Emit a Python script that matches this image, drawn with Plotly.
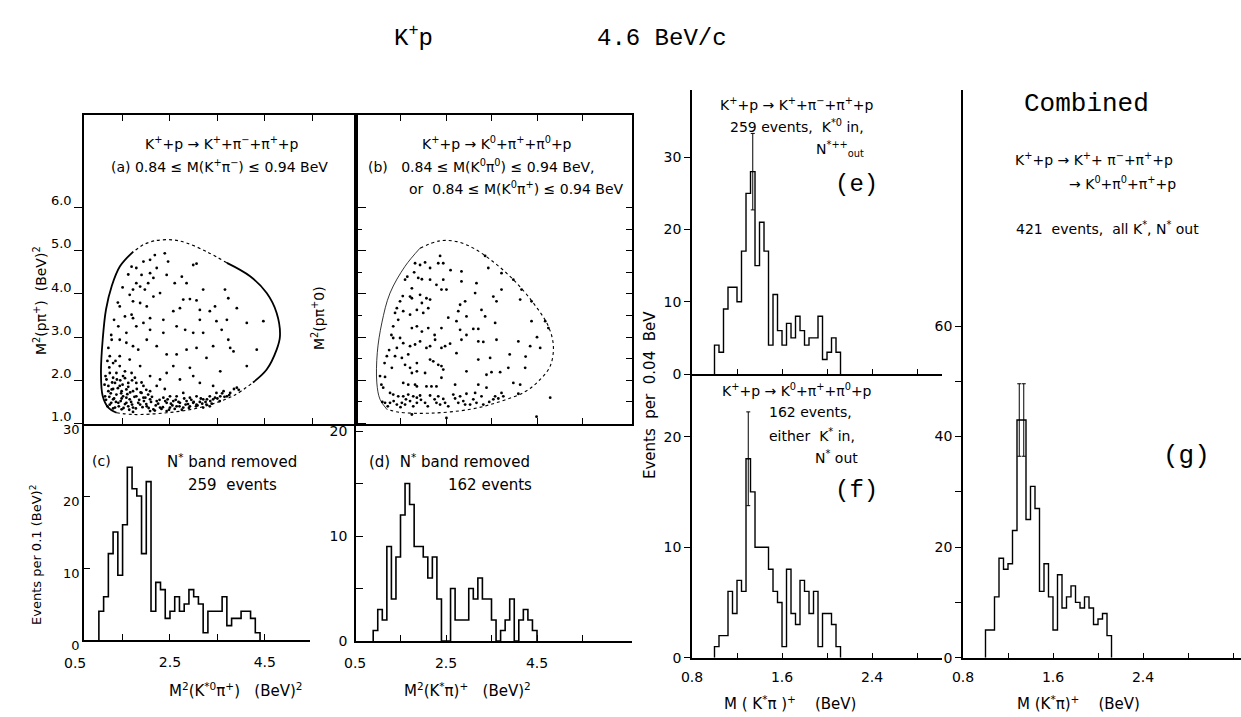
import plotly.graph_objects as go

W, H = 1241, 717

# ---------------- histogram data ----------------
# (c) M^2(K*0 pi+) , bins of 0.1 (BeV)^2, 259 events
c_start, c_width = 1.0, 0.1
c_counts = [4, 6, 12, 15, 9, 16, 24, 21, 20, 12, 22, 4, 8, 7, 3, 4, 6, 4, 5, 7,
            6, 5, 1, 4, 4, 4, 6, 2, 3, 3, 4, 4, 3, 1]

# (d) M^2(K* pi)+ , bins of 0.1 (BeV)^2, 162 events
d_start, d_width = 0.9, 0.1
d_counts = [1, 3, 2, 9, 4, 8, 12, 15, 13, 9, 9, 8, 6, 8, 4, 0, 0, 5, 2, 2,
            2, 5, 4, 6, 4, 4, 2, 0, 1, 2, 4, 0, 2, 3, 2, 1]

# (e), (f), (g) M(K* pi)+ , bins of 0.04 BeV
m_start, m_width = 1.0, 0.04
e_counts = [4, 3, 9, 12, 12, 10, 17, 25, 28, 15, 21, 17, 4, 11, 6, 4, 7, 5, 8, 6,
            4, 5, 5, 8, 2, 3, 5, 3]
f_counts = [1, 2, 2, 6, 4, 7, 6, 18, 15, 10, 10, 10, 8, 6, 5, 1, 8, 4, 3, 7,
            6, 4, 6, 1, 4, 4, 3, 1]
g_counts = [5, 5, 11, 18, 16, 17, 23, 43, 43, 25, 31, 27, 12, 17, 11, 5, 15, 9, 11, 13,
            10, 9, 11, 9, 6, 7, 8, 4]

# peak bins carrying statistical error bars
e_err_bins = [8]
f_err_bins = [7]
g_err_bins = [7, 8]

# tick labels of the M^2 axes
m2_ticks = [1.5, 2.5, 3.5, 4.5, 5.5]
m2_first_label, m2_first_val = "0.5", 0.5

# ---------------- Dalitz plot data ----------------
# (a) kinematic boundary, M^2(K*pi) vs M^2(p pi+)
a_bx = [1.93, 1.726, 1.445, 1.27, 1.15, 1.08, 1.044, 1.08, 1.20, 1.375, 1.72, 2.43, 3.13,
        3.83, 4.25, 4.54, 4.75, 4.82, 4.75, 4.54, 4.19, 3.70, 3.27, 2.85, 2.57, 2.18, 1.93]
a_by = [5.14, 4.98, 4.64, 4.18, 3.64, 2.94, 2.18, 1.64, 1.37, 1.25, 1.21, 1.25, 1.37,
        1.64, 1.95, 2.25, 2.71, 3.02, 3.56, 4.02, 4.41, 4.72, 4.98, 5.18, 5.25, 5.23, 5.14]

a_x = [1.69, 1.79, 1.94, 2.08, 2.18, 2.39, 1.90, 2.08, 2.15, 1.79, 1.87, 1.97, 2.46, 2.99,
       3.06, 2.43, 2.75, 2.85, 1.65, 1.72, 1.87, 2.01, 1.69, 1.72, 2.29, 2.78, 2.92, 3.06,
       3.13, 2.71, 2.57, 3.73, 3.91, 4.47, 4.12, 3.70, 3.48, 3.59, 3.73, 3.77, 3.41, 3.13,
       2.82, 2.99, 3.20, 2.36, 2.08, 1.94, 1.44, 1.55, 1.41, 1.27, 1.44, 1.58, 1.72, 1.83,
       2.01, 2.22, 2.43, 2.64, 2.85, 3.06, 3.27, 3.56, 4.12, 4.33, 3.84, 2.92, 2.57, 2.43,
       2.29, 2.08, 1.87, 1.65, 1.44, 1.30, 1.23, 1.37, 1.51, 1.34, 1.44, 1.58, 1.72, 1.79,
       1.94, 2.08, 2.22, 2.39, 2.50, 2.64, 2.78, 2.92, 3.06, 3.20, 3.34, 3.48, 3.63, 3.77,
       3.91, 3.13, 3.41, 2.99, 2.71, 1.16, 1.27, 1.37, 1.30, 1.41, 1.51, 1.65, 1.79, 1.94,
       2.08, 2.22, 2.36, 2.43, 2.57, 2.71, 2.85, 2.99, 3.13, 3.27, 3.41, 3.56, 3.70, 1.23,
       1.34, 1.48, 1.62, 1.72, 1.87, 2.01, 2.15, 2.29, 2.50, 2.64, 2.78, 2.92, 3.06, 3.20,
       3.34, 1.72, 2.08, 2.43, 1.20, 1.13, 1.48, 1.62, 1.76, 1.90, 2.04, 1.30, 1.55, 1.69,
       1.44, 1.23, 1.58, 1.79, 2.08, 2.36, 2.64, 3.34, 3.45, 3.66, 3.20, 2.60, 2.15, 1.72,
       2.04, 2.22, 1.25, 1.32, 1.40, 1.46, 1.55, 1.60, 1.68, 1.75, 1.83, 1.88, 1.95, 2.00,
       2.12, 2.20, 2.28, 2.35, 2.45, 2.55, 2.62, 2.70, 2.80, 2.88, 2.95, 3.05, 3.15, 3.25,
       3.35, 3.50, 3.60, 3.85, 1.28, 1.38, 1.50, 1.22, 1.35,
       1.15, 1.18, 1.22, 1.26, 1.30, 1.36, 1.42, 1.48, 1.52, 1.58, 1.64, 1.70, 1.78, 1.85,
       1.92, 1.98, 2.05, 2.10, 2.18, 2.25, 2.32, 2.40, 2.48, 2.52, 2.60, 2.68, 2.75, 2.83,
       2.90, 3.00, 3.08, 3.18, 3.28, 3.38, 3.45, 3.55, 3.65, 3.75, 3.95, 1.12, 1.14, 1.18,
       1.20, 1.26, 1.32, 1.40, 1.50, 1.62, 1.45, 1.55, 1.62, 1.70, 1.80, 1.30, 1.20, 1.47,
       1.58, 1.66, 1.90, 2.00]
a_y = [4.63, 4.60, 4.75, 4.79, 4.90, 4.94, 4.44, 4.48, 4.37, 4.25, 4.17, 4.10, 4.75, 4.67,
       4.70, 4.44, 4.40, 4.25, 3.98, 3.83, 3.79, 3.71, 3.52, 3.44, 4.02, 3.87, 3.88, 3.85,
       3.63, 3.67, 3.60, 3.90, 3.67, 3.37, 3.33, 3.40, 3.37, 3.17, 2.94, 2.75, 2.79, 3.40,
       3.17, 3.10, 3.10, 3.10, 3.17, 3.33, 3.71, 3.48, 3.25, 2.94, 2.94, 2.87, 2.79, 2.71,
       2.94, 2.79, 2.60, 2.60, 2.71, 2.75, 2.52, 2.21, 2.33, 2.71, 2.67, 2.29, 2.33, 2.17,
       2.02, 2.10, 2.33, 2.48, 2.56, 2.40, 2.17, 2.17, 2.10, 1.94, 1.87, 1.79, 1.75, 1.94,
       1.87, 1.75, 1.87, 1.80, 1.63, 1.63, 1.71, 1.60, 1.63, 1.56, 1.63, 1.71, 1.75, 1.71,
       1.83, 1.94, 1.87, 2.10, 2.02, 2.02, 1.79, 1.67, 1.56, 1.48, 1.63, 1.56, 1.63, 1.60,
       1.56, 1.52, 1.60, 1.48, 1.52, 1.48, 1.52, 1.48, 1.50, 1.44, 1.56, 1.63, 1.63, 1.44,
       1.37, 1.33, 1.40, 1.37, 1.44, 1.40, 1.33, 1.37, 1.37, 1.40, 1.37, 1.40, 1.44, 1.37,
       1.40, 1.27, 1.29, 1.29, 1.87, 1.63, 1.75, 1.94, 2.06, 1.71, 1.67, 2.06, 2.21, 2.17,
       2.33, 2.56, 3.10, 3.25, 3.44, 3.40, 3.25, 3.60, 3.71, 4.10, 4.10, 4.25, 3.94, 4.10,
       4.25, 4.60, 1.70, 1.58, 1.82, 1.52, 1.45, 1.68, 1.50, 1.62, 1.48, 1.72, 1.52, 1.45,
       1.62, 1.42, 1.55, 1.38, 1.56, 1.42, 1.55, 1.40, 1.58, 1.45, 1.55, 1.40, 1.58, 1.50,
       1.52, 1.58, 1.70, 1.80, 1.95, 2.02, 1.90, 2.30, 2.45,
       1.55, 1.40, 1.62, 1.48, 1.35, 1.50, 1.40, 1.58, 1.36, 1.48, 1.32, 1.44, 1.35, 1.55,
       1.38, 1.60, 1.36, 1.50, 1.30, 1.46, 1.34, 1.52, 1.32, 1.46, 1.34, 1.50, 1.32, 1.44,
       1.36, 1.50, 1.42, 1.46, 1.56, 1.46, 1.60, 1.52, 1.62, 1.66, 1.78, 1.90, 2.10, 2.45,
       2.75, 3.05, 3.40, 3.80, 4.15, 4.45, 2.00, 2.05, 1.85, 2.00, 1.80, 1.80, 1.75, 1.70,
       1.60, 1.72, 1.95, 1.78]

# (b) kinematic boundary, M^2(K*pi) vs M^2(p pi0)
b_bx = [1.93, 2.37, 2.74, 3.10, 3.53, 3.98, 4.42, 4.75, 4.86, 4.79, 4.57, 4.24, 3.69,
        3.03, 2.15, 1.49, 1.20, 1.05, 0.98, 0.99, 1.09, 1.27, 1.60, 1.93]
b_by = [5.06, 5.23, 5.21, 5.06, 4.75, 4.33, 3.79, 3.25, 2.79, 2.33, 2.02, 1.74, 1.51,
        1.33, 1.24, 1.26, 1.33, 1.56, 1.94, 2.64, 3.33, 4.02, 4.64, 5.06]

b_x = [1.82, 1.93, 2.04, 2.15, 2.37, 2.33, 2.44, 2.84, 3.43, 3.72, 3.36, 1.60, 1.75, 1.89,
       1.97, 2.15, 2.29, 2.44, 2.40, 2.51, 2.84, 3.17, 3.72, 3.98, 4.16, 4.13, 4.38, 1.71,
       1.75, 1.93, 2.07, 2.15, 1.97, 1.86, 1.49, 1.42, 1.38, 1.56, 1.71, 2.00, 2.11, 2.81,
       2.92, 2.77, 3.28, 3.36, 3.61, 3.14, 3.54, 2.95, 2.73, 3.58, 4.38, 4.68, 4.75, 1.34,
       1.75, 1.86, 1.97, 2.11, 2.40, 2.81, 3.10, 3.21, 1.34, 1.49, 1.56, 1.42, 1.71, 1.82,
       1.93, 2.07, 2.15, 2.26, 2.40, 2.48, 2.59, 2.84, 3.21, 3.32, 3.61, 4.09, 4.35, 4.57,
       1.20, 1.38, 1.53, 1.67, 1.86, 2.15, 2.22, 2.33, 2.73, 3.21, 3.47, 3.87, 4.24, 1.05,
       1.16, 1.31, 1.60, 1.71, 1.75, 1.86, 2.04, 2.40, 2.40, 2.44, 2.95, 3.39, 3.50, 3.69,
       3.98, 4.13, 1.56, 1.67, 1.82, 1.86, 2.07, 2.18, 2.29, 2.70, 3.21, 3.39, 3.58, 3.72,
       3.76, 4.09, 1.12, 1.27, 1.34, 1.45, 1.56, 1.67, 1.78, 1.86, 1.93, 2.15, 2.33, 2.44,
       2.66, 2.81, 2.95, 3.14, 3.28, 3.54, 1.16, 1.27, 1.42, 1.53, 1.60, 1.71, 1.86, 2.04,
       2.29, 2.37, 2.48, 2.77, 2.92, 3.03, 3.17, 3.32, 1.75, 2.51, 4.49, 4.79,
       1.10, 1.22, 1.35, 1.50, 1.62, 1.78, 1.95, 2.10, 2.25, 2.55, 2.70, 2.88, 3.10, 3.45,
       3.65, 1.08, 1.15, 1.25, 1.30, 1.45, 1.55, 1.65, 1.80, 2.60, 2.25, 2.55, 2.95, 3.90,
       4.25, 4.50]
b_y = [4.71, 4.67, 4.73, 4.60, 4.88, 4.71, 4.71, 4.52, 4.60, 4.48, 4.88, 4.33, 4.13, 4.37,
       4.34, 4.33, 4.21, 4.33, 4.10, 4.10, 4.29, 4.25, 4.10, 4.33, 4.10, 3.87, 3.83, 3.94,
       3.90, 3.98, 3.90, 3.87, 3.79, 3.63, 3.83, 3.67, 3.56, 3.60, 3.52, 3.56, 3.67, 3.75,
       3.83, 3.60, 3.63, 3.48, 3.83, 4.02, 3.94, 3.48, 3.37, 3.33, 3.37, 3.37, 3.21, 3.25,
       3.21, 3.25, 3.13, 3.21, 3.21, 3.17, 3.19, 3.19, 2.98, 2.98, 2.86, 2.75, 2.79, 2.83,
       2.90, 2.75, 2.79, 2.94, 2.75, 2.79, 2.85, 2.94, 2.90, 2.89, 2.94, 2.90, 2.79, 2.75,
       2.56, 2.56, 2.52, 2.60, 2.40, 2.48, 2.44, 2.36, 2.63, 2.48, 2.52, 2.29, 2.29, 2.10,
       2.08, 2.29, 2.36, 2.29, 2.17, 2.21, 2.17, 2.33, 2.06, 2.25, 2.21, 2.13, 2.19, 2.19,
       1.94, 1.90, 1.94, 1.90, 1.90, 1.86, 1.86, 1.86, 1.86, 1.90, 1.90, 1.83, 1.63, 1.71,
       1.63, 1.69, 1.83, 1.71, 1.67, 1.63, 1.63, 1.67, 1.63, 1.60, 1.65, 1.65, 1.63, 1.57,
       1.67, 1.63, 1.69, 1.71, 1.63, 1.56, 1.48, 1.48, 1.44, 1.48, 1.44, 1.52, 1.48, 1.48,
       1.48, 1.44, 1.48, 1.48, 1.44, 1.44, 1.48, 1.44, 1.21, 1.13, 1.16, 1.60,
       1.50, 1.40, 1.52, 1.38, 1.56, 1.40, 1.55, 1.40, 1.56, 1.40, 1.58, 1.52, 1.56, 1.50,
       1.58, 1.90, 2.40, 2.70, 3.05, 3.40, 3.95, 4.40, 4.50, 4.55, 3.05, 3.45, 3.05, 2.60,
       2.55, 3.00]


# ---------------- helpers ----------------
def px_x(px):
    return px / W


def px_y(py):
    return 1 - py / H


def dom_x(a, b):
    return [px_x(a), px_x(b)]


def dom_y(top, bot):
    return [px_y(bot), px_y(top)]


def data_to_paper(val, domain, rng):
    """Paper coordinate of an axis value (linear axis)."""
    return domain[0] + (val - rng[0]) / (rng[1] - rng[0]) * (domain[1] - domain[0])


def step_trace(start, width, counts, xa, ya, lw=1.6):
    edges = [start + i * width for i in range(len(counts) + 1)]
    xs = [edges[0]] + edges[:-1] + [edges[-1], edges[-1]]
    ys = [0] + list(counts) + [counts[-1], 0]
    return go.Scatter(x=xs, y=ys, mode="lines", xaxis=xa, yaxis=ya,
                      line=dict(shape="hv", color="black", width=lw),
                      hoverinfo="skip", showlegend=False)


def err_trace(start, width, counts, bins, xa, ya):
    xs = [start + (b + 0.5) * width for b in bins]
    ys = [counts[b] for b in bins]
    errs = [counts[b] ** 0.5 for b in bins]
    return go.Scatter(x=xs, y=ys, mode="markers", xaxis=xa, yaxis=ya,
                      marker=dict(size=1, color="black"),
                      error_y=dict(type="data", array=errs, visible=True,
                                   color="black", thickness=1, width=2),
                      hoverinfo="skip", showlegend=False)


TICKFONT = dict(family="DejaVu Sans", size=14, color="black")
SMALLTICK = dict(family="DejaVu Sans", size=13, color="black")
LABFONT = "DejaVu Sans"
TYPEFONT = "Liberation Mono"

fig = go.Figure()

# ---- Dalitz panels ----
# (a): solid left and right arcs, dotted top and bottom arcs
segs_a = [(1, 10, "solid", 1.8), (9, 15, "dot", 1.2), (14, 22, "solid", 1.8), (21, 27, "dot", 1.2)]
for i0, i1, dash, lw in segs_a:
    fig.add_trace(go.Scatter(x=a_bx[i0:i1], y=a_by[i0:i1], mode="lines", xaxis="x", yaxis="y",
                             line=dict(color="black", width=lw, dash=dash, shape="spline"),
                             hoverinfo="skip", showlegend=False))
fig.add_trace(go.Scatter(x=a_bx[0:2], y=a_by[0:2], mode="lines", xaxis="x", yaxis="y",
                         line=dict(color="black", width=1.2, dash="dot"),
                         hoverinfo="skip", showlegend=False))
fig.add_trace(go.Scatter(x=a_x, y=a_y, mode="markers", xaxis="x", yaxis="y",
                         marker=dict(size=2.8, color="black"), hoverinfo="skip", showlegend=False))

# (b): thin solid left arc, dotted elsewhere
fig.add_trace(go.Scatter(x=b_bx[0:17], y=b_by[0:17], mode="lines", xaxis="x2", yaxis="y2",
                         line=dict(color="black", width=1.1, dash="dot", shape="spline"),
                         hoverinfo="skip", showlegend=False))
fig.add_trace(go.Scatter(x=b_bx[16:], y=b_by[16:], mode="lines", xaxis="x2", yaxis="y2",
                         line=dict(color="black", width=0.8, shape="spline"),
                         hoverinfo="skip", showlegend=False))
fig.add_trace(go.Scatter(x=b_x, y=b_y, mode="markers", xaxis="x2", yaxis="y2",
                         marker=dict(size=2.8, color="black"), hoverinfo="skip", showlegend=False))

# ---- histograms ----
fig.add_trace(step_trace(c_start, c_width, c_counts, "x3", "y3"))
fig.add_trace(step_trace(d_start, d_width, d_counts, "x4", "y4"))
fig.add_trace(step_trace(m_start, m_width, e_counts, "x5", "y5", lw=1.4))
fig.add_trace(step_trace(m_start, m_width, f_counts, "x6", "y6", lw=1.4))
fig.add_trace(step_trace(m_start, m_width, g_counts, "x7", "y7", lw=1.4))
fig.add_trace(err_trace(m_start, m_width, e_counts, e_err_bins, "x5", "y5"))
fig.add_trace(err_trace(m_start, m_width, f_counts, f_err_bins, "x6", "y6"))
fig.add_trace(err_trace(m_start, m_width, g_counts, g_err_bins, "x7", "y7"))

# ---------------- axes ----------------
base = dict(showgrid=False, zeroline=False, showline=True, linecolor="black", linewidth=1.5,
            tickcolor="black", tickfont=TICKFONT, fixedrange=True, automargin=False)

dom_c, rng_c = dom_x(84, 310), [0.686, 5.454]
dom_d, rng_d = dom_x(356, 632), [0.522, 6.588]

# a
xa = dict(base, domain=dom_x(84, 356), range=[0.686, 6.424], anchor="y", mirror="ticks",
          ticks="inside", ticklen=6, tickvals=m2_ticks, showticklabels=False)
ya = dict(base, domain=dom_y(115, 424), range=[0.99, 8.141], anchor="x", mirror="ticks",
          ticks="outside", ticklen=8, tickvals=[1, 2, 3, 4, 5, 6], tickfont=SMALLTICK,
          ticktext=["1.0", "2.0", "3.0", "4.0", "5.0", "6.0"], ticklabelshift=-7)
# b
xb = dict(base, domain=dom_d, range=rng_d, anchor="y2", mirror="ticks",
          ticks="inside", ticklen=6, tickvals=m2_ticks, showticklabels=False)
yb = dict(base, domain=dom_y(115, 424), range=[0.99, 8.141], anchor="x2", mirror="ticks",
          ticks="inside", ticklen=6, tickvals=[1.5, 2, 2.5, 3, 3.5, 4, 4.5, 5, 5.5, 6],
          showticklabels=False)
# c (the 0.5 label lies left of the axis start and is written separately below)
xc = dict(base, domain=dom_c, range=rng_c, anchor="y3",
          ticks="inside", ticklen=6, tickvals=m2_ticks,
          ticktext=["", "2.5", "", "4.5", ""], ticklabelstandoff=8)
yc = dict(base, domain=dom_y(424, 640), range=[0, 30], anchor="x3",
          ticks="inside", ticklen=6, tickvals=[0, 10, 20, 30], ticktext=["0", "10", "20", "30"],
          tickfont=SMALLTICK, ticklabelshift=5)
# d
xd = dict(base, domain=dom_d, range=rng_d, anchor="y4",
          ticks="inside", ticklen=6, tickvals=m2_ticks,
          ticktext=["", "2.5", "", "4.5", ""], ticklabelstandoff=8)
yd = dict(base, domain=dom_y(424, 641), range=[0, 20.67], anchor="x4",
          ticks="inside", ticklen=7, tickvals=[0, 5, 10, 15, 20], ticktext=["0", "", "10", "", "20"],
          ticklabelstandoff=4)
# e, f
mass_ticks = [0.8, 1.2, 1.6, 2.0, 2.4, 2.8]
xe = dict(base, domain=dom_x(692, 942), range=[0.8, 3.022], anchor="y5",
          ticks="inside", ticklen=5, tickvals=mass_ticks, showticklabels=False)
ye = dict(base, domain=dom_y(90, 374), range=[0, 39.3], anchor="x5",
          ticks="outside", ticklen=6, tickvals=[0, 10, 20, 30])
xf = dict(base, domain=dom_x(692, 942), range=[0.8, 3.022], anchor="y6",
          ticks="inside", ticklen=5, tickvals=mass_ticks,
          ticktext=["0.8", "", "1.6", "", "2.4", ""], ticklabelstandoff=6)
yf = dict(base, domain=dom_y(374, 657.7), range=[0, 25.67], anchor="x6",
          ticks="outside", ticklen=6, tickvals=[0, 10, 20])
# g
xg = dict(base, domain=dom_x(963, 1241), range=[0.8, 3.271], anchor="y7",
          ticks="inside", ticklen=5, tickvals=mass_ticks + [3.2],
          ticktext=["0.8", "", "1.6", "", "2.4", "", ""], ticklabelstandoff=6)
yg = dict(base, domain=dom_y(90, 657.7), range=[0, 102.7], anchor="x7",
          ticks="outside", ticklen=6, tickvals=[0, 10, 20, 30, 40, 50, 60],
          ticktext=["0", "", "20", "", "40", "", "60"])


# ---------------- text ----------------
def ann(text, x, y, size=14, family=LABFONT, xanchor="center", angle=0):
    return dict(text=text, x=px_x(x), y=px_y(y), xref="paper", yref="paper",
                xanchor=xanchor, yanchor="middle", showarrow=False, textangle=angle,
                font=dict(family=family, size=size, color="black"))


annotations = [
    ann("K<sup>+</sup>p", 413, 37, size=24, family=TYPEFONT),
    ann("4.6 BeV/c", 662, 39, size=24, family=TYPEFONT),
    # (a)
    ann("K<sup>+</sup>+p → K<sup>+</sup>+π<sup>−</sup>+π<sup>+</sup>+p", 222, 143, size=14),
    ann("(a) 0.84 ≤ M(K<sup>+</sup>π<sup>−</sup>) ≤ 0.94 BeV", 220, 166, size=14),
    ann("M<sup>2</sup>(pπ<sup>+</sup>)  (BeV)<sup>2</sup>", 40, 300, size=14, angle=-90),
    ann("M<sup>2</sup>(pπ<sup>+</sup>0)", 318, 318, size=14, angle=-90),
    # (b)
    ann("K<sup>+</sup>+p → K<sup>0</sup>+π<sup>+</sup>+π<sup>0</sup>+p", 497, 143, size=14),
    ann("(b)   0.84 ≤ M(K<sup>0</sup>π<sup>0</sup>) ≤ 0.94 BeV,", 366, 166, size=14, xanchor="left"),
    ann("or  0.84 ≤ M(K<sup>0</sup>π<sup>+</sup>) ≤ 0.94 BeV", 626, 188, size=14, xanchor="right"),
    # (c)
    ann("(c)", 101, 461, size=14),
    ann("N<sup>*</sup> band removed", 232, 461, size=15),
    ann("259  events", 232, 485, size=15),
    ann("Events per 0.1 (BeV)<sup>2</sup>", 36, 555, size=13, angle=-90),
    ann("M<sup>2</sup>(K<sup>*0</sup>π<sup>+</sup>)   (BeV)<sup>2</sup>", 235, 690, size=15),
    # (d)
    ann("(d)  N<sup>*</sup> band removed", 367, 461, size=15, xanchor="left"),
    ann("162 events", 490, 485, size=15),
    ann("M<sup>2</sup>(K<sup>*</sup>π)<sup>+</sup>   (BeV)<sup>2</sup>", 467, 690, size=15),
    # (e)
    ann("K<sup>+</sup>+p → K<sup>+</sup>+π<sup>−</sup>+π<sup>+</sup>+p", 797, 104, size=14),
    ann("259 events,  K<sup>*0</sup> in,", 797, 126, size=14),
    ann("N<sup>*++</sup><sub>out</sub>", 840, 149, size=14),
    ann("(e)", 856, 184, size=24, family=TYPEFONT),
    ann("Events  per  0.04  BeV", 650, 395, size=15, angle=-90),
    # (f)
    ann("K<sup>+</sup>+p → K<sup>0</sup>+π<sup>+</sup>+π<sup>0</sup>+p", 797, 390, size=14),
    ann("162 events,", 810, 412, size=14),
    ann("either  K<sup>*</sup> in,", 812, 435, size=14),
    ann("N<sup>*</sup> out", 836, 457, size=14),
    ann("(f)", 856, 491, size=24, family=TYPEFONT),
    ann("M ( K<sup>*</sup>π )<sup>+</sup>    (BeV)", 790, 703, size=15),
    # (g)
    ann("Combined", 1086, 104, size=26, family=TYPEFONT),
    ann("K<sup>+</sup>+p → K<sup>+</sup>+ π<sup>−</sup>+π<sup>+</sup>+p", 1094, 159, size=14),
    ann("→ K<sup>0</sup>+π<sup>0</sup>+π<sup>+</sup>+p", 1122, 183, size=14),
    ann("421  events,  all K<sup>*</sup>, N<sup>*</sup> out", 1107, 228, size=14),
    ann("(g)", 1186, 456, size=26, family=TYPEFONT),
    ann("M (K<sup>*</sup>π)<sup>+</sup>    (BeV)", 1078, 703, size=15),
]

# first label of each M^2 axis sits just left of where the axis line starts
for dom, rng in ((dom_c, rng_c), (dom_d, rng_d)):
    annotations.append(dict(text=m2_first_label, x=data_to_paper(m2_first_val, dom, rng),
                            xref="paper", y=px_y(663), yref="paper", xanchor="center",
                            yanchor="middle", showarrow=False, font=TICKFONT))

fig.update_layout(
    width=W, height=H, margin=dict(l=0, r=0, t=0, b=0, pad=0, autoexpand=False),
    paper_bgcolor="white", plot_bgcolor="white", showlegend=False,
    xaxis=xa, yaxis=ya, xaxis2=xb, yaxis2=yb, xaxis3=xc, yaxis3=yc,
    xaxis4=xd, yaxis4=yd, xaxis5=xe, yaxis5=ye, xaxis6=xf, yaxis6=yf,
    xaxis7=xg, yaxis7=yg, annotations=annotations,
)

fig.write_html("out.html")
